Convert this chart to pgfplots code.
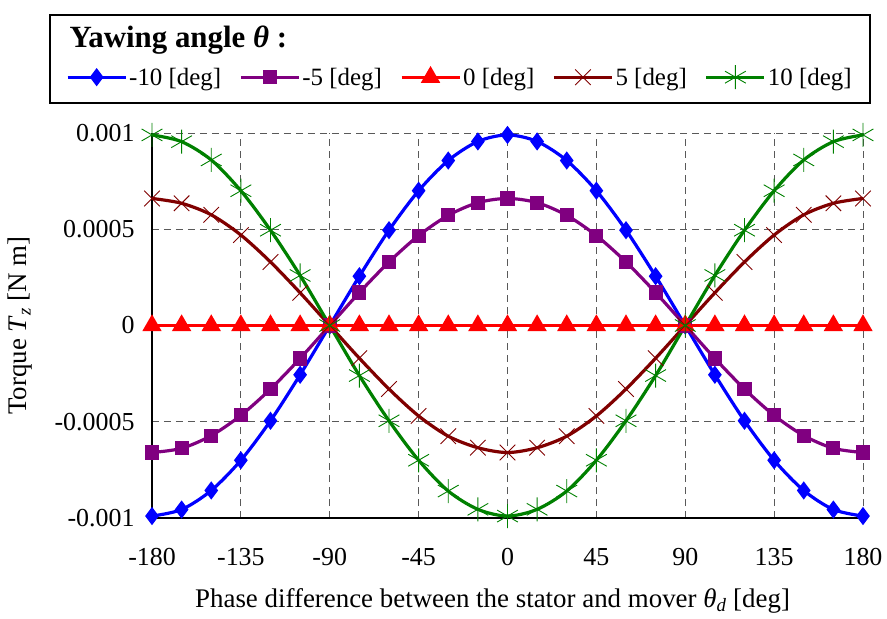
\documentclass[border=0pt]{standalone}
\usepackage{fontspec}
\setmainfont{Liberation Serif}
\usepackage{pgfplots}
\pgfplotsset{compat=1.18}
\definecolor{cblue}{RGB}{0,0,255}
\definecolor{cpurple}{RGB}{128,0,128}
\definecolor{cred}{RGB}{255,0,0}
\definecolor{cdarkred}{RGB}{128,0,0}
\definecolor{cgreen}{RGB}{0,128,0}

\begin{document}
\begin{tikzpicture}
\begin{axis}[
  scale only axis, width=711bp, height=385bp,
  xmin=-180, xmax=180, ymin=-0.001, ymax=0.001,
  xtick={-180,-135,-90,-45,0,45,90,135,180},
  xticklabels={-180,-135,-90,-45,0,45,90,135,180},
  ytick={-0.001,-0.0005,0,0.0005,0.001},
  yticklabels={-0.001,-0.0005,0,0.0005,0.001},
  scaled y ticks=false, scaled x ticks=false,
  axis x line*=bottom, axis y line*=left,
  axis line style={black, line width=1.3bp},
  grid=major, major grid style={dashed, black!65, line width=0.9bp, dash pattern=on 7bp off 5bp},
  major tick length=0pt,
  tick label style={font=\fontsize{26}{30}\selectfont},
  x tick label style={yshift=-27bp},
  y tick label style={xshift=-14bp},
  xlabel={Phase difference between the stator and mover \textit{θ}\textsubscript{\textit{d}} [deg]},
  ylabel={Torque \textit{T}\textsubscript{\textit{z}} [N m]},
  label style={font=\fontsize{27}{31}\selectfont},
  xlabel style={at={(axis description cs:0.479,-0.215)}, anchor=center},
  ylabel style={at={(axis description cs:-0.185,0.5)}, anchor=center},
  clip=false,
  legend columns=5,
  legend style={at={(0.433,1.145)}, anchor=center, draw=none, fill=none,
    font=\fontsize{25}{29}\selectfont,
    nodes={inner sep=2bp},
    /tikz/every even column/.append style={column sep=16bp}},
  legend image code/.code={\draw[mark repeat=2,mark phase=2] plot coordinates {(0bp,0bp) (29bp,0bp) (58bp,0bp)};},
  every axis plot/.append style={line width=3.2bp, smooth},
]
\addplot[color=cblue, mark=diamond*, mark size=6.5bp, mark options={solid}] coordinates {
(-180,-0.00099) (-165,-0.000956) (-150,-0.000857) (-135,-0.0007) (-120,-0.000495) (-105,-0.000256)
(-90,0) (-75,0.000256) (-60,0.000495) (-45,0.0007) (-30,0.000857) (-15,0.000956) (0,0.00099)
(15,0.000956) (30,0.000857) (45,0.0007) (60,0.000495) (75,0.000256) (90,0)
(105,-0.000256) (120,-0.000495) (135,-0.0007) (150,-0.000857) (165,-0.000956) (180,-0.00099)};
\addlegendentry{-10 [deg]}
\addplot[color=cpurple, mark=square*, mark size=5.5bp, mark options={solid}] coordinates {
(-180,-0.00066) (-165,-0.000638) (-150,-0.000572) (-135,-0.000467) (-120,-0.00033) (-105,-0.000171)
(-90,0) (-75,0.000171) (-60,0.00033) (-45,0.000467) (-30,0.000572) (-15,0.000638) (0,0.00066)
(15,0.000638) (30,0.000572) (45,0.000467) (60,0.00033) (75,0.000171) (90,0)
(105,-0.000171) (120,-0.00033) (135,-0.000467) (150,-0.000572) (165,-0.000638) (180,-0.00066)};
\addlegendentry{-5 [deg]}
\addplot[color=cred, mark=triangle*, mark size=8bp, mark options={solid}] coordinates {
(-180,0) (-165,0) (-150,0) (-135,0) (-120,0) (-105,0) (-90,0) (-75,0) (-60,0) (-45,0) (-30,0) (-15,0) (0,0)
(15,0) (30,0) (45,0) (60,0) (75,0) (90,0) (105,0) (120,0) (135,0) (150,0) (165,0) (180,0)};
\addlegendentry{0 [deg]}
\addplot[color=cdarkred, mark=x, mark size=11bp, mark options={solid, line width=0.9bp}] coordinates {
(-180,0.00066) (-165,0.000635) (-150,0.000575) (-135,0.00047) (-120,0.00033) (-105,0.00017)
(-90,0) (-75,-0.00017) (-60,-0.00033) (-45,-0.00047) (-30,-0.000575) (-15,-0.000635) (0,-0.00066)
(15,-0.000635) (30,-0.000575) (45,-0.00047) (60,-0.00033) (75,-0.00017) (90,0)
(105,0.00017) (120,0.00033) (135,0.00047) (150,0.000575) (165,0.000635) (180,0.00066)};
\addlegendentry{5 [deg]}
\addplot[color=cgreen, mark=asterisk, mark size=12bp, mark options={solid, line width=0.9bp}] coordinates {
(-180,0.00099) (-165,0.000955) (-150,0.00086) (-135,0.0007) (-120,0.000495) (-105,0.00026)
(-90,0) (-75,-0.00026) (-60,-0.000495) (-45,-0.0007) (-30,-0.00086) (-15,-0.000955) (0,-0.00099)
(15,-0.000955) (30,-0.00086) (45,-0.0007) (60,-0.000495) (75,-0.00026) (90,0)
(105,0.00026) (120,0.000495) (135,0.0007) (150,0.00086) (165,0.000955) (180,0.00099)};
\addlegendentry{10 [deg]}
\end{axis}
\node[anchor=west, font=\fontsize{31}{35}\selectfont\bfseries] at (-86bp,478bp) {Yawing angle \textit{θ} :};
\draw[line width=1.2bp] (-102bp,415bp) rectangle (718bp,503bp);
\pgfresetboundingbox
\path[use as bounding box] (-152bp,-101bp) rectangle (735bp,518bp);
\end{tikzpicture}
\end{document}
